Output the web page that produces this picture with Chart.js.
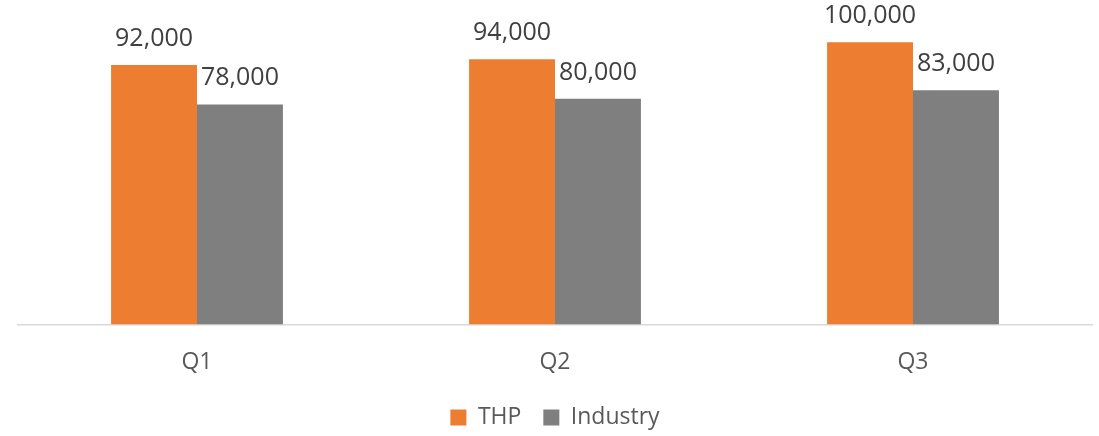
<!DOCTYPE html>
<html>
<head>
<meta charset="utf-8">
<script src="https://cdn.jsdelivr.net/npm/chart.js@4/dist/chart.umd.min.js"></script>
<style>
  html, body { margin: 0; padding: 0; background: #fff; }
  #wrap { width: 1099px; height: 436px; }
</style>
</head>
<body>
<div id="wrap"><canvas id="chart"></canvas></div>
<script>
// Данные графика
const quarters = ['Q1', 'Q2', 'Q3'];
const thpValues = [92000, 94000, 100000];
const industryValues = [78000, 80000, 83000];

const FONT = "'Open Sans', sans-serif";

// Подписи значений над столбцами
const valueLabels = {
  id: 'valueLabels',
  afterDatasetsDraw(chart) {
    const ctx = chart.ctx;
    ctx.save();
    ctx.font = `25px ${FONT}`;
    ctx.fillStyle = '#404040';
    ctx.textAlign = 'center';
    ctx.textBaseline = 'alphabetic';
    chart.data.datasets.forEach((ds, i) => {
      chart.getDatasetMeta(i).data.forEach((bar, j) => {
        ctx.fillText(ds.data[j].toLocaleString('en-US'), bar.x, bar.y - 19);
      });
    });
    ctx.restore();
  }
};

new Chart(document.getElementById('chart'), {
  type: 'bar',
  data: {
    labels: quarters,
    datasets: [
      { label: 'THP', data: thpValues, backgroundColor: '#ED7D31' },
      { label: 'Industry', data: industryValues, backgroundColor: '#7F7F7F' }
    ]
  },
  options: {
    responsive: true,
    maintainAspectRatio: false,
    animation: false,
    layout: { padding: { left: 18, right: 7, top: 0, bottom: -3 } },
    datasets: { bar: { categoryPercentage: 0.48, barPercentage: 1 } },
    plugins: {
      tooltip: { enabled: false },
      legend: {
        position: 'bottom',
        labels: {
          color: '#595959',
          font: { size: 23, family: FONT },
          boxWidth: 16,
          boxHeight: 16,
          padding: 22
        }
      }
    },
    scales: {
      x: {
        grid: { display: false, drawTicks: false },
        border: { color: '#D9D9D9', width: 1.5 },
        ticks: { color: '#595959', font: { size: 23, family: FONT }, padding: 24 },
        // фиксированная высота оси, чтобы легенда встала на место
        afterFit: (scale) => { scale.height = 59.5; }
      },
      y: {
        display: false,
        min: 0,
        max: 115000
      }
    }
  },
  plugins: [valueLabels]
});
</script>
</body>
</html>
